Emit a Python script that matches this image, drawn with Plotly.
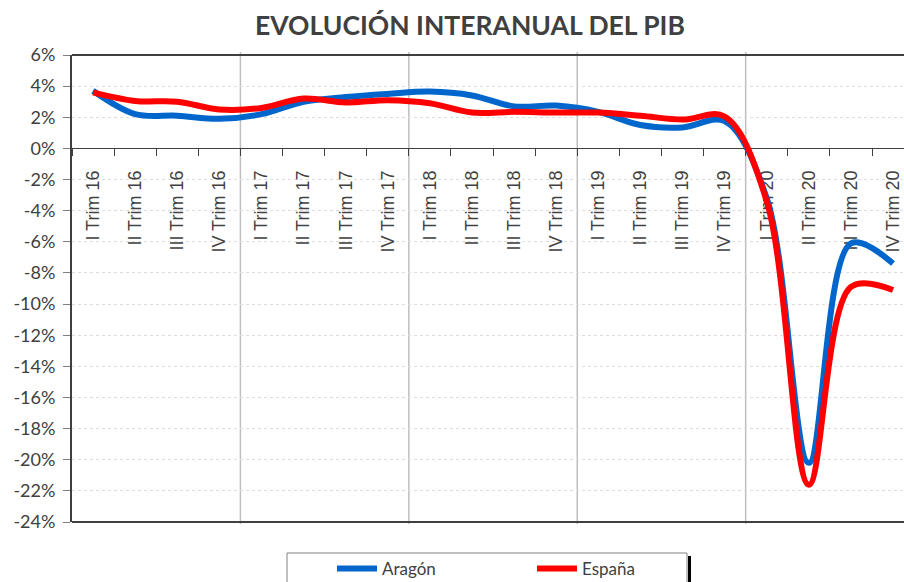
import plotly.graph_objects as go

categories = ["I Trim 16", "II Trim 16", "III Trim 16", "IV Trim 16",
              "I Trim 17", "II Trim 17", "III Trim 17", "IV Trim 17",
              "I Trim 18", "II Trim 18", "III Trim 18", "IV Trim 18",
              "I Trim 19", "II Trim 19", "III Trim 19", "IV Trim 19",
              "I Trim 20", "II Trim 20", "III Trim 20", "IV Trim 20"]
aragon = [3.7, 2.2, 2.1, 1.9, 2.2, 3.0, 3.3, 3.5, 3.65, 3.4, 2.7, 2.75,
          2.35, 1.5, 1.35, 1.75, -3.2, -20.2, -6.1, -7.4]
espana = [3.6, 3.05, 3.0, 2.5, 2.6, 3.2, 2.95, 3.1, 2.9, 2.3, 2.35, 2.3,
          2.3, 2.1, 1.85, 2.05, -3.4, -21.6, -8.9, -9.1]
y_ticks = [6, 4, 2, 0, -2, -4, -6, -8, -10, -12, -14, -16, -18, -20, -22, -24]
y_tick_labels = ["6%", "4%", "2%", "0%", "-2%", "-4%", "-6%", "-8%", "-10%", "-12%",
                 "-14%", "-16%", "-18%", "-20%", "-22%", "-24%"]
year_boundaries = [3.5, 7.5, 11.5, 15.5]

W, H = 904, 582
L, R, T, B = 72, 0, 55, 60
PW, PH = W - L - R, H - T - B

def px_x(p):
    return (p - L) / PW

def px_y(p):
    return (H - B - p) / PH

fig = go.Figure()
fig.add_trace(go.Scatter(x=categories, y=aragon, name="Aragón", mode="lines",
                         line=dict(color="#0066CC", width=6, shape="spline", smoothing=1.0)))
fig.add_trace(go.Scatter(x=categories, y=espana, name="España", mode="lines",
                         line=dict(color="#FF0000", width=6, shape="spline", smoothing=1.0)))

shapes = []
for b in year_boundaries:
    shapes.append(dict(type="line", xref="x", yref="paper", x0=b, x1=b,
                       y0=px_y(524), y1=px_y(52), line=dict(color="#BFBFBF", width=1.5),
                       layer="below"))
# frame top & bottom
shapes.append(dict(type="line", xref="paper", yref="paper", x0=0, x1=1, y0=1, y1=1,
                   line=dict(color="#404040", width=2)))
shapes.append(dict(type="line", xref="paper", yref="paper", x0=0, x1=1, y0=0, y1=0,
                   line=dict(color="#404040", width=2)))
# legend box
shapes.append(dict(type="rect", xref="paper", yref="paper", x0=px_x(287), x1=px_x(687),
                   y0=px_y(595), y1=px_y(553), line=dict(color="#808080", width=1),
                   fillcolor="white", layer="below"))
shapes.append(dict(type="line", xref="paper", yref="paper", x0=px_x(689.5), x1=px_x(689.5),
                   y0=px_y(595), y1=px_y(556), line=dict(color="black", width=3)))

fig.update_layout(
    width=W, height=H,
    margin=dict(l=L, r=R, t=T, b=B, pad=0, autoexpand=False),
    paper_bgcolor="white", plot_bgcolor="white",
    title=dict(text="EVOLUCIÓN INTERANUAL DEL PIB", xref="container", x=470 / W,
               xanchor="center", yref="container", y=1 - 26 / H, yanchor="middle",
               font=dict(family="Lato", size=26.5, color="#404040", weight=700)),
    showlegend=True,
    legend=dict(orientation="h", x=px_x(332), xanchor="left", y=px_y(551), yanchor="top",
                bgcolor="rgba(0,0,0,0)", borderwidth=0,
                font=dict(family="Lato", size=17, color="#404040"),
                entrywidth=145, entrywidthmode="pixels", itemwidth=40),
    shapes=shapes,
    xaxis=dict(type="category", range=[-0.5, 19.26], anchor="free", position=0.8,
               showline=True, linecolor="#404040", linewidth=1,
               ticks="outside", ticklen=7, tickcolor="#404040", tickson="boundaries",
               showgrid=False, tickangle=-90, ticklabelstandoff=14,
               ticklabeloverflow="allow", automargin=False,
               tickfont=dict(family="Liberation Sans", size=18, color="#404040"),
               layer="below traces", fixedrange=True),
    yaxis=dict(range=[-24, 6], tickvals=y_ticks, ticktext=y_tick_labels,
               showline=True, linecolor="#404040", linewidth=2, automargin=False,
               ticks="outside", ticklen=7, tickcolor="#808080",
               showgrid=True, gridcolor="#DDDDDD", gridwidth=1, griddash="dot",
               zeroline=False, ticklabelstandoff=4,
               tickfont=dict(family="Lato", size=18, color="#404040")),
)

fig.write_html("out.html", config={"displayModeBar": False},
               post_script="document.body.style.margin='0px';document.body.style.overflow='hidden';")
